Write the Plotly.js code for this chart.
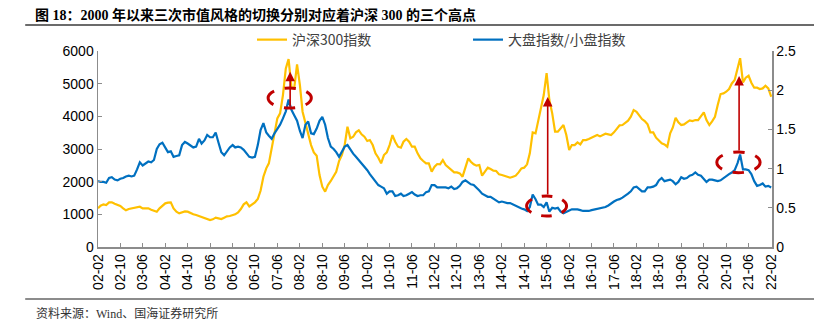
<!DOCTYPE html>
<html>
<head>
<meta charset="utf-8">
<script src="https://cdn.plot.ly/plotly-3.0.1.min.js"></script>
<style>html,body{margin:0;padding:0;background:#fff}#chart{width:814px;height:322px}</style>
</head>
<body>
<div id="chart"></div>
<script>
// Monthly observations, first value = 2002-02, last = 2022-02
const startYear = 2002;
const startMonth = 2;

const hs300 = [
  1183,1265,1306,1285,1367,1367,1326,1295,1255,1183,
  1122,1163,1183,1183,1214,1234,1183,1193,1183,1142,
  1102,1081,1183,1265,1336,1357,1367,1183,1081,1030,
  1061,1091,1081,1030,1000,979,949,918,898,877,
  826,847,898,877,857,898,938,950,980,
  1000,1061,1163,1306,1367,1244,1306,1367,1469,1720,
  2152,2407,2560,3070,3550,3937,4090,4651,5467,5750,
  4900,4855,5590,4957,4141,3784,3427,3121,2897,2795,
  2203,1846,1693,1897,2020,2152,2305,2632,2815,3121,
  3682,3325,3376,3509,3570,3448,3376,3244,
  3274,3121,2866,2734,2560,2815,2897,3121,3427,3223,
  3070,3040,3223,3305,3223,3070,3070,2866,2713,2632,
  2560,2560,2305,2458,2540,2530,2662,2509,2428,2356,
  2285,2285,2254,2152,2428,2713,2611,2530,2489,2509,
  2183,2305,2428,2387,2336,2326,2224,
  2203,2183,2142,2122,2152,2183,2285,2407,2428,2530,
  2866,3509,3478,3856,4294,4651,5320,4498,4090,3529,
  3529,3631,3733,3427,2968,3121,3121,3203,3142,3274,
  3274,3305,3346,3376,3427,3386,3427,3468,3448,3427,
  3509,3631,3723,3733,3805,3866,3988,4192,4141,4019,
  3917,3856,3754,3509,3509,3346,3264,3172,3142,3070,
  3478,3652,3958,3815,3733,3754,3815,3876,3856,3886,
  3886,3988,4121,3886,3733,3845,3988,4345,4682,4702,
  4753,4835,5008,5110,5518,5780,5039,5182,5243,5029,
  4876,4876,4835,4855,4937,4855,4600
];

const largeSmallRatio = [
  0.84,0.83,0.83,0.82,0.88,0.89,0.86,0.85,0.87,0.88,
  0.90,0.91,0.90,0.91,0.99,1.08,1.04,1.07,1.09,1.08,
  1.11,1.25,1.31,1.33,1.27,1.21,1.22,1.15,1.16,1.17,
  1.30,1.34,1.32,1.30,1.27,1.28,1.38,1.32,1.36,1.43,
  1.40,1.40,1.46,1.33,1.21,1.17,1.22,1.27,1.30,
  1.27,1.28,1.27,1.24,1.19,1.15,1.14,1.15,1.30,1.49,
  1.58,1.46,1.42,1.38,1.45,1.51,1.56,1.64,1.73,1.88,
  1.75,1.68,1.61,1.48,1.39,1.56,1.60,1.45,1.44,1.51,
  1.61,1.66,1.56,1.39,1.28,1.25,1.21,1.15,1.21,1.28,
  1.30,1.24,1.19,1.15,1.11,1.07,1.02,0.98,
  0.93,0.88,0.84,0.79,0.77,0.75,0.68,0.71,0.71,0.65,
  0.66,0.68,0.65,0.66,0.68,0.70,0.67,0.65,0.66,0.66,
  0.70,0.71,0.79,0.79,0.76,0.76,0.76,0.76,0.75,0.77,
  0.74,0.75,0.78,0.83,0.85,0.82,0.80,0.79,0.76,0.72,
  0.68,0.66,0.64,0.64,0.62,0.60,0.57,
  0.58,0.57,0.56,0.56,0.54,0.53,0.51,0.49,0.48,0.46,
  0.51,0.67,0.61,0.54,0.54,0.51,0.57,0.45,0.50,0.49,
  0.50,0.45,0.43,0.45,0.46,0.48,0.48,0.48,0.47,0.46,
  0.46,0.46,0.47,0.48,0.48,0.49,0.50,0.51,0.53,0.56,
  0.58,0.60,0.61,0.63,0.65,0.68,0.71,0.76,0.77,0.74,
  0.71,0.71,0.76,0.76,0.77,0.79,0.85,0.88,0.84,0.85,
  0.86,0.84,0.80,0.83,0.89,0.87,0.88,0.91,0.92,0.95,
  0.92,0.91,0.87,0.83,0.86,0.86,0.85,0.84,0.85,0.88,
  0.91,0.93,0.95,0.98,1.07,1.18,0.99,0.99,0.98,0.93,
  0.84,0.78,0.79,0.81,0.77,0.78,0.76
];

const seriesNames = ['沪深300指数', '大盘指数/小盘指数'];
const tickMonthStep = 8;
const titleText = '图 18：2000 年以来三次市值风格的切换分别对应着沪深 300 的三个高点';
const sourceText = '资料来源：Wind、国海证券研究所';

// highlighted peaks: [start month idx, end month idx, low value, high value] on left scale
const ellipses = [
  [60.7, 76.1, 4255, 4867],
  [152.9, 167.1, 949, 1561],
  [220.7, 236.1, 2274, 2908]
];
// arrows: [month idx, tail value, head value] on left scale
const arrows = [
  [68.6, 4255, 5366],
  [160.4, 1561, 4592],
  [228.6, 2908, 5234]
];

function pad(n){ return (n < 10 ? '0' : '') + n; }
function monthToDate(m){
  const whole = Math.floor(m);
  const frac = m - whole;
  const total = (startMonth - 1) + whole;
  const y = startYear + Math.floor(total / 12);
  const mo = total % 12 + 1;
  const d = Math.min(28, 1 + Math.round(frac * 29));
  return y + '-' + pad(mo) + '-' + pad(d);
}

const dates = hs300.map((_, i) => monthToDate(i));
const tickvals = [];
for (let m = 0; m < hs300.length; m += tickMonthStep) tickvals.push(monthToDate(m));

const gold = '#FFC000';
const blue = '#0070C0';
const red = '#C00000';
const axisColor = '#8c8c8c';
const tickFont = {family: 'Liberation Sans, Arial, sans-serif', size: 14, color: '#000'};

const traces = [
  {x: dates, y: hs300, name: seriesNames[0], type: 'scatter', mode: 'lines',
   line: {color: gold, width: 2.2}, yaxis: 'y'},
  {x: dates, y: largeSmallRatio, name: seriesNames[1], type: 'scatter', mode: 'lines',
   line: {color: blue, width: 2.2}, yaxis: 'y2'}
];

const shapes = ellipses.map(e => ({
  type: 'circle', xref: 'x', yref: 'y',
  x0: monthToDate(e[0]), x1: monthToDate(e[1]), y0: e[2], y1: e[3],
  line: {color: red, width: 3}
}));
shapes.push({type: 'line', xref: 'paper', yref: 'paper', x0: -0.108, x1: 1.07, y0: 1.1327, y1: 1.1327,
  line: {color: '#3a3a3a', width: 1.3}});
shapes.push({type: 'line', xref: 'paper', yref: 'paper', x0: -0.108, x1: 1.07, y0: -0.2653, y1: -0.2653,
  line: {color: '#666', width: 1.3}});

const annotations = arrows.map(a => ({
  xref: 'x', yref: 'y', axref: 'x', ayref: 'y',
  x: monthToDate(a[0]), y: a[2], ax: monthToDate(a[0]), ay: a[1],
  text: '', showarrow: true, arrowhead: 2, arrowsize: 1.2, arrowwidth: 1.6,
  arrowcolor: red, standoff: 0, startstandoff: 0
}));
annotations.push({
  xref: 'paper', yref: 'paper', x: -0.095, y: -0.337, xanchor: 'left', yanchor: 'middle',
  showarrow: false, text: sourceText,
  font: {family: 'Liberation Serif, Noto Sans CJK SC, serif', size: 12, color: '#333'}
});

const layout = {
  width: 814, height: 322,
  margin: {l: 98, r: 42, t: 51, b: 75},
  paper_bgcolor: '#fff', plot_bgcolor: '#fff',
  title: {
    text: titleText, xref: 'container', yref: 'container',
    x: 0.043, xanchor: 'left', y: 0.953, yanchor: 'middle',
    font: {family: 'Liberation Serif, Noto Sans CJK SC, serif', size: 14, color: '#000', weight: 700}
  },
  showlegend: true,
  legend: {
    orientation: 'h', x: 0.2285, xanchor: 'left', y: 1.056, yanchor: 'middle',
    font: {family: 'Noto Sans CJK SC, Liberation Sans, sans-serif', size: 14, color: '#404040'},
    entrywidth: 171, entrywidthmode: 'pixels', itemwidth: 30, bgcolor: 'rgba(0,0,0,0)'
  },
  xaxis: {
    type: 'date', range: ['2002-02-01', '2022-02-10'],
    tickvals: tickvals, tickformat: '%y-%m', tickangle: -90,
    ticks: 'inside', ticklen: 4, tickcolor: axisColor, tickwidth: 1,
    showline: true, linecolor: axisColor, linewidth: 1.5,
    showgrid: false, zeroline: false, tickfont: tickFont, fixedrange: true
  },
  yaxis: {
    range: [0, 6000], dtick: 1000, tick0: 0,
    ticks: 'inside', ticklen: 4, tickcolor: axisColor,
    showline: true, linecolor: axisColor, linewidth: 1.5,
    showgrid: false, zeroline: false, tickfont: tickFont
  },
  yaxis2: {
    overlaying: 'y', side: 'right', range: [0, 2.5], dtick: 0.5, tick0: 0,
    ticks: 'inside', ticklen: 4, tickcolor: axisColor,
    showline: true, linecolor: axisColor, linewidth: 1.5,
    showgrid: false, zeroline: false, tickfont: tickFont
  },
  shapes: shapes,
  annotations: annotations
};

Plotly.newPlot('chart', traces, layout, {displayModeBar: false, staticPlot: true}).then(gd => {
  ellipses.forEach((_, i) => {
    const p = gd.querySelector('.shapelayer path[data-index="' + i + '"]');
    if (!p || !p.getTotalLength) return;
    const q = p.getTotalLength() / 4;
    const side = 0.36 * q, gap = 0.42 * q, tb = 0.44 * q;
    p.style.strokeDasharray = [side, gap, tb, gap, 2 * side, gap, tb, gap, side].join(' ');
  });
});
</script>
</body>
</html>
